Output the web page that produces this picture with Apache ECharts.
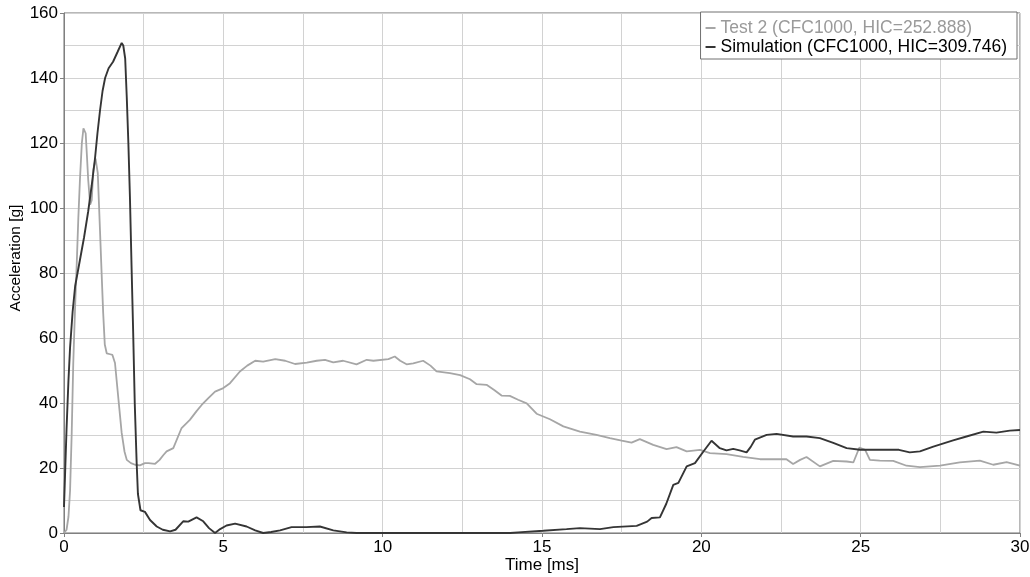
<!DOCTYPE html>
<html>
<head>
<meta charset="utf-8">
<script src="https://cdn.jsdelivr.net/npm/echarts@6/dist/echarts.min.js"></script>
<style>html,body{margin:0;padding:0;background:#fff;}#c{width:1030px;height:577px;}</style>
</head>
<body>
<div id="c"></div>
<script>
const seriesNames = ['Test 2 (CFC1000, HIC=252.888)', 'Simulation (CFC1000, HIC=309.746)'];
const xTitle = 'Time [ms]';
const yTitle = 'Acceleration [g]';

// [time ms, acceleration g]
const test2 = [
[0,0],[0.08,1],[0.14,5],[0.19,13],[0.24,30],[0.29,52],[0.35,70],[0.4,83],[0.45,97],[0.5,108.6],[0.56,120],[0.61,124.5],[0.65,124],[0.68,123],[0.72,116],[0.76,108.6],[0.82,101],[0.87,102.4],[0.92,111.7],[0.99,115.2],[1.06,110.7],[1.13,93],[1.18,80],[1.23,67.6],[1.28,58],[1.34,55.3],[1.45,55],[1.52,54.8],[1.6,52.3],[1.7,42],[1.81,30.8],[1.9,25],[1.97,22.5],[2.1,21.5],[2.23,21],[2.38,20.8],[2.54,21.5],[2.65,21.5],[2.86,21.3],[3.0,22.5],[3.12,24],[3.22,25.1],[3.43,26.1],[3.69,32.3],[3.95,34.8],[4.16,37.5],[4.32,39.4],[4.53,41.5],[4.74,43.5],[5.0,44.6],[5.21,46.1],[5.52,49.7],[5.75,51.5],[6.0,53],[6.25,52.7],[6.63,53.5],[6.94,53],[7.25,52],[7.62,52.4],[7.93,53],[8.19,53.3],[8.45,52.5],[8.76,53],[9.18,51.9],[9.5,53.3],[9.71,53],[10.18,53.5],[10.38,54.3],[10.55,53],[10.75,51.9],[10.96,52.2],[11.27,53],[11.5,51.5],[11.69,49.7],[12.11,49.2],[12.43,48.6],[12.74,47.3],[12.95,45.8],[13.26,45.6],[13.5,44],[13.73,42.3],[13.99,42.2],[14.25,41],[14.52,39.9],[14.83,36.7],[15.25,35],[15.67,32.8],[16.19,31.2],[16.71,30.2],[17.13,29.2],[17.5,28.4],[17.81,27.8],[18.07,28.9],[18.49,27.1],[18.91,25.8],[19.22,26.4],[19.54,25.1],[19.96,25.6],[20.27,24.6],[20.79,24.3],[21.31,23.4],[21.84,22.7],[22.26,22.7],[22.67,22.7],[22.88,21.2],[23.1,22.5],[23.3,23.4],[23.72,20.5],[24.14,22.2],[24.56,22],[24.77,21.7],[24.96,26.3],[25.14,25.6],[25.29,22.5],[25.6,22.3],[26.02,22.2],[26.44,20.7],[26.86,20.3],[27.49,20.7],[28.11,21.7],[28.74,22.3],[29.16,21],[29.58,21.8],[30,20.7]
];

const simulation = [
[0,8],[0.04,20],[0.08,32],[0.14,47],[0.19,57],[0.27,68],[0.35,76],[0.5,84],[0.63,91],[0.76,99],[0.87,107],[0.97,115],[1.05,123],[1.13,130],[1.21,136],[1.29,140],[1.4,143],[1.54,145],[1.68,148],[1.81,150.8],[1.86,150],[1.92,146],[1.97,134],[2.02,120],[2.07,103],[2.12,82],[2.17,62],[2.22,40],[2.28,21.6],[2.32,12],[2.4,7],[2.54,6.5],[2.7,4],[2.91,2],[3.1,1],[3.33,0.5],[3.5,1],[3.74,3.6],[3.9,3.5],[4.16,4.8],[4.37,3.6],[4.55,1.5],[4.74,0],[4.9,1.2],[5.1,2.3],[5.37,2.9],[5.73,2],[6.0,0.8],[6.25,0],[6.5,0.3],[6.78,0.8],[7.14,1.8],[7.6,1.8],[8.03,2.0],[8.45,0.8],[8.87,0.2],[9.18,0],[10,0],[11,0],[12,0],[13,0],[14,0],[14.25,0.2],[15.04,0.7],[15.77,1.2],[16.19,1.5],[16.82,1.2],[17.24,1.8],[17.97,2.2],[18.3,3.5],[18.44,4.6],[18.7,4.8],[18.9,9],[19.12,14.8],[19.28,15.4],[19.54,20.5],[19.8,21.5],[20.06,25],[20.32,28.4],[20.58,26.1],[20.79,25.4],[21.0,25.9],[21.2,25.4],[21.42,24.8],[21.55,26.5],[21.68,28.7],[22.05,30.2],[22.36,30.5],[22.88,29.7],[23.3,29.7],[23.72,29.2],[24.14,27.7],[24.56,26.1],[24.98,25.6],[25.8,25.6],[26.2,25.6],[26.54,24.8],[26.86,25.1],[27.28,26.6],[27.9,28.5],[28.32,29.7],[28.85,31.2],[29.26,30.9],[29.68,31.5],[30,31.7]
];

const xTicks = [0, 5, 10, 15, 20, 25, 30];
const yTicks = [0, 20, 40, 60, 80, 100, 120, 140, 160];

const colors = ['#a6a6a6', '#353535'];
const font = '"Liberation Sans", Arial, sans-serif';
const gridColor = '#d2d2d2';

const chart = echarts.init(document.getElementById('c'), null, {renderer: 'canvas'});
chart.setOption({
  animation: false,
  backgroundColor: '#ffffff',
  grid: {left: 64, right: 10, top: 13, bottom: 44, containLabel: false, outerBoundsMode: 'none',
         show: true, borderColor: '#707070', borderWidth: 1, backgroundColor: 'transparent'},
  legend: {
    orient: 'vertical', right: 13, top: 12,
    backgroundColor: '#ffffff', borderColor: '#707070', borderWidth: 1,
    padding: [7, 10, 3, 5], itemGap: 1, itemWidth: 10, itemHeight: 2, itemTextGap: 1,
    icon: 'rect',
    data: [
      {name: seriesNames[0], textStyle: {color: '#9a9a9a'}},
      {name: seriesNames[1], textStyle: {color: '#000000'}}
    ],
    textStyle: {fontFamily: font, fontSize: 17.5}
  },
  xAxis: {
    type: 'value', min: xTicks[0], max: xTicks[xTicks.length - 1], interval: 5,
    name: xTitle, nameLocation: 'middle', nameGap: 24, nameMoveOverlap: false,
    nameTextStyle: {fontFamily: font, fontSize: 17, color: '#000'},
    axisLine: {show: true, onZero: false, lineStyle: {color: '#808080', width: 1}},
    axisTick: {show: true, length: 4, lineStyle: {color: '#808080'}},
    axisLabel: {fontFamily: font, fontSize: 17, color: '#000', margin: 6},
    splitLine: {show: true, lineStyle: {color: gridColor, width: 1}},
    minorTick: {show: false, splitNumber: 2},
    minorSplitLine: {show: true, lineStyle: {color: gridColor, width: 1}}
  },
  yAxis: {
    type: 'value', min: yTicks[0], max: yTicks[yTicks.length - 1], interval: 20,
    name: yTitle, nameLocation: 'middle', nameGap: 40, nameRotate: 90, nameMoveOverlap: false,
    nameTextStyle: {fontFamily: font, fontSize: 15.5, color: '#000', padding: [0, 0, 0, 30]},
    axisLine: {show: true, onZero: false, lineStyle: {color: '#808080', width: 1}},
    axisTick: {show: true, length: 4, lineStyle: {color: '#808080'}},
    axisLabel: {fontFamily: font, fontSize: 17, color: '#000', margin: 6},
    splitLine: {show: true, lineStyle: {color: gridColor, width: 1}},
    minorTick: {show: false, splitNumber: 2},
    minorSplitLine: {show: true, lineStyle: {color: gridColor, width: 1}}
  },
  series: [
    {name: seriesNames[0], type: 'line', data: test2, showSymbol: false, symbol: 'none', smooth: false,
     lineStyle: {color: colors[0], width: 1.8}, itemStyle: {color: colors[0]}, z: 3},
    {name: seriesNames[1], type: 'line', data: simulation, showSymbol: false, symbol: 'none', smooth: false,
     lineStyle: {color: colors[1], width: 1.9}, itemStyle: {color: colors[1]}, z: 4}
  ]
});
</script>
</body>
</html>
